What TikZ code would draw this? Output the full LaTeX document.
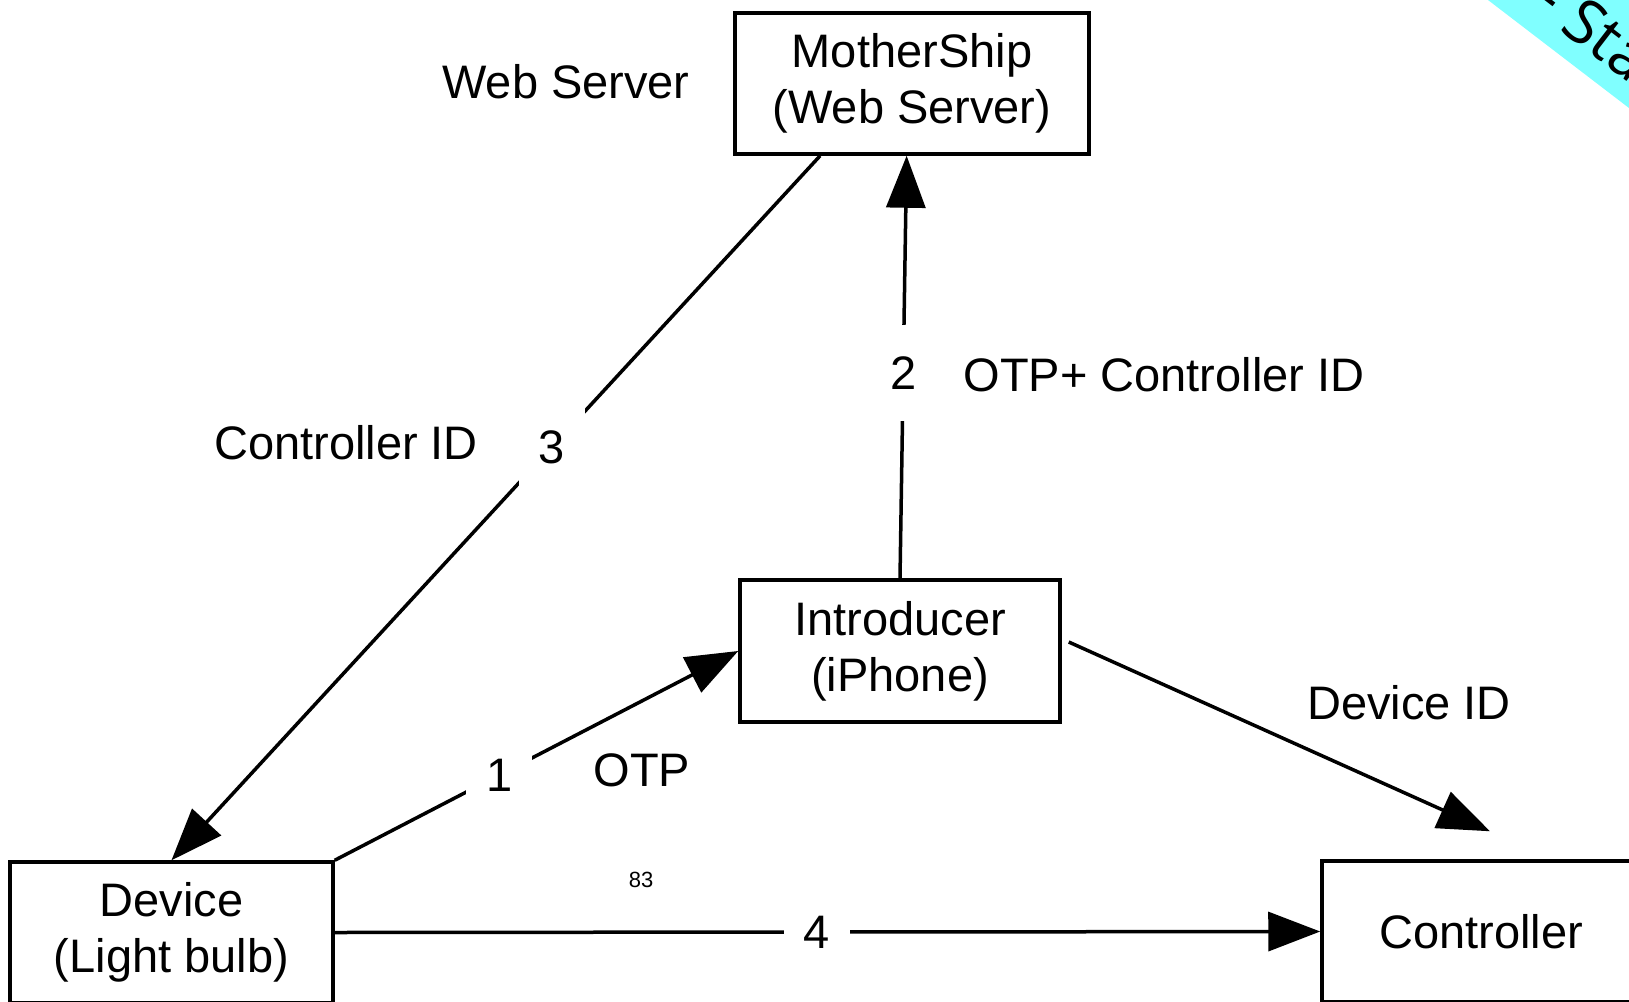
\documentclass[tikz,border=0pt]{standalone}
\usepackage{fontspec}
\setmainfont{Liberation Sans}
\newfontfamily\bannerfont{Open Sans}
\usetikzlibrary{arrows.meta,calc}
\definecolor{banner}{RGB}{128,255,255}
\begin{document}
\begin{tikzpicture}[x=0.5pt,y=-0.5pt,
  txt/.style={font=\fontsize{23.5}{28}\selectfont},
  box/.style={txt,draw,line width=1.75pt,inner sep=0pt,align=center},
  lbl/.style={txt,inner sep=0pt,anchor=base},
  gap/.style={txt,fill=white,inner sep=0pt,minimum width=33pt,minimum height=48pt},
  conn/.style={line width=1.75pt,-{Triangle[length=26pt,width=19.5pt]}},
]
\useasboundingbox (0,0) rectangle (1629,1002);
\clip (0,0) rectangle (1629,1002);
% banner
\fill[banner] (1488,0) -- (1629,108) -- (1629,0) -- cycle;
\node[rotate=-37.5,anchor=base west,inner sep=0pt,font=\bannerfont\fontsize{31}{36}\selectfont] (bn) at (1530,7) {- Sta};
% boxes
\node[box,minimum width=177pt,minimum height=70.5pt] (ms) at (912,83.5) {MotherShip\\(Web Server)};
\node[box,minimum width=160pt,minimum height=71pt] (intro) at (900,651) {Introducer\\(iPhone)};
\node[box,minimum width=161.5pt,minimum height=70.5pt] (dev) at (171.5,932.5) {Device\\(Light bulb)};
\node[box,minimum width=159pt,minimum height=70.5pt] (ctrl) at (1481,931.5) {Controller};
% connectors
\draw[conn] ($(ms.south west)!0.243!(ms.south east)$) -- node[gap,pos=0.414] (n3) {3} (dev.north);
\draw[conn] (intro.north) -- node[gap,pos=0.486] (n2) {2} ($(ms.south west)!0.485!(ms.south east)$);
\draw[conn] (dev.north east) -- node[gap,pos=0.408] (n1) {1} (intro.west);
\draw[conn] (dev.east) -- node[gap,pos=0.489] (n4) {4} (ctrl.west);
\coordinate (did) at ($(ctrl.north)+(9,-28)$);
\draw[conn] ($(intro.east)+(7,-9)$) -- (did);
% labels
\node[lbl] (ws) at (566,98) {Web Server};
\node[lbl] (cid) at (346,459) {Controller ID};
\node[lbl] (otpc) at (1164,391) {OTP+ Controller ID};
\node[lbl] (devid) at (1409,719) {Device ID};
\node[lbl] (otp) at (642,786) {OTP};
\node[lbl,font=\fontsize{11}{13}\selectfont] (pg) at (641,887) {83};
\end{tikzpicture}
\end{document}
